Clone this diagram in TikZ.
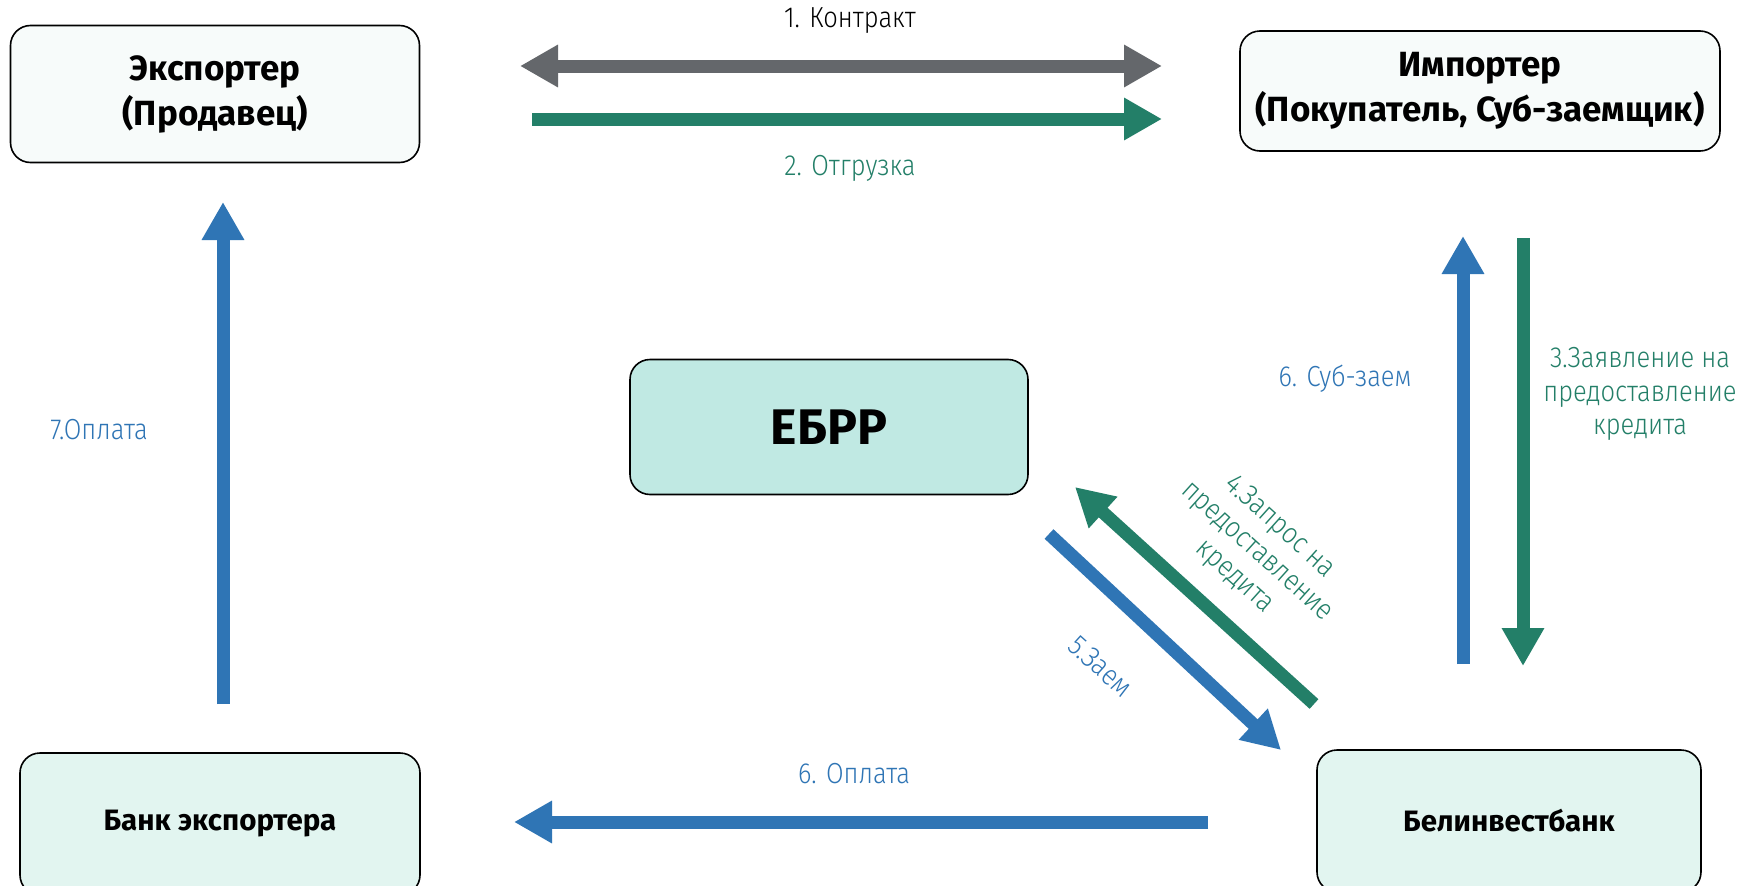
\documentclass[tikz,border=0pt]{standalone}
\usepackage{fontspec}
\setmainfont{Fira Sans}
\newfontfamily\lblfont[FakeStretch=0.88]{Fira Sans Light}
\usetikzlibrary{arrows.meta}
\definecolor{cgray}{HTML}{64676B}
\definecolor{cgreen}{HTML}{237F68}
\definecolor{cblue}{HTML}{2F75B5}
\definecolor{fillA}{HTML}{F7FBFA}
\definecolor{fillB}{HTML}{E2F5F0}
\definecolor{fillC}{HTML}{C0E9E3}
\tikzset{
  box/.style={draw=black, line width=1.6pt, rounded corners=20pt, align=center, font=\bfseries\fontsize{35}{45}\selectfont, inner sep=0pt},
  fatarrow/.style={line width=13pt, -{Triangle[length=38pt,width=40pt]}},
  lbl/.style={font=\lblfont\fontsize{29}{33.5}\selectfont, align=center, inner sep=0pt},
}
\begin{document}
\begin{tikzpicture}[x=1pt,y=-1pt]
\useasboundingbox (0,0) rectangle (1746,886);
\clip (0,0) rectangle (1746,886);
\fill[white] (0,0) rectangle (1746,886);
% boxes
\node[box, fill=fillA, minimum width=409pt, minimum height=137pt] (exp) at (215,94) {Экспортер\\(Продавец)};
\node[box, fill=fillA, minimum width=480pt, minimum height=120pt] (imp) at (1480,91) {Импортер\\(Покупатель, Суб-заемщик)};
\node[box, fill=fillC, minimum width=398pt, minimum height=135pt, font=\bfseries\fontsize{50}{60}\selectfont] (ebrd) at (829,427) {ЕБРР};
\node[box, fill=fillB, minimum width=400pt, minimum height=142pt, font=\bfseries\fontsize{29.5}{36}\selectfont] (bexp) at (220,824) {Банк экспортера};
\node[box, fill=fillB, minimum width=384pt, minimum height=142pt, font=\bfseries\fontsize{29.5}{36}\selectfont] (bib) at (1509,821) {Белинвестбанк};
% arrow end points
\coordinate (c1a) at (520,66);
\coordinate (c1b) at (1162,66);
\coordinate (c2a) at (532,119);
\coordinate (c2b) at (1162,119);
\coordinate (c7a) at (223,704);
\coordinate (c7b) at (223,202);
\coordinate (c6a) at (1463,664);
\coordinate (c6b) at (1463,236);
\coordinate (c3a) at (1523,238);
\coordinate (c3b) at (1523,666);
\coordinate (c4a) at (1314,704);
\coordinate (c4b) at (1075,487);
\coordinate (c5a) at (1049,534);
\coordinate (c5b) at (1281,750);
\coordinate (c6oa) at (1208,822);
\coordinate (c6ob) at (514,822);
% arrows
\draw[line width=13pt, cgray, {Triangle[length=38pt,width=40pt]}-{Triangle[length=38pt,width=40pt]}] (c1a) -- (c1b);
\draw[fatarrow, cgreen] (c2a) -- (c2b);
\draw[fatarrow, cblue] (c7a) -- (c7b);
\draw[fatarrow, cblue] (c6a) -- (c6b);
\draw[fatarrow, cgreen] (c3a) -- (c3b);
\draw[fatarrow, cgreen] (c4a) -- (c4b);
\draw[fatarrow, cblue] (c5a) -- (c5b);
\draw[fatarrow, cblue] (c6oa) -- (c6ob);
% labels
\node[lbl, text=black] (l1) at (850,21) {1. Контракт};
\node[lbl, text=cgreen] (l2) at (850,168) {2. Отгрузка};
\node[lbl, text=cblue] (l7) at (99,430) {7.Оплата};
\node[lbl, text=cblue] (l6s) at (1345,379) {6. Суб-заем};
\node[lbl, text=cgreen] (l3) at (1640,394) {3.Заявление на\\предоставление\\кредита};
\node[lbl, text=cgreen, rotate=-42] (l4) at (1257,552) {4.Запрос на\\предоставление\\кредита};
\node[lbl, text=cblue, rotate=-42] (l5) at (1101,666) {5.Заем};
\node[lbl, text=cblue] (l6o) at (854,774) {6. Оплата};
\end{tikzpicture}
\end{document}
